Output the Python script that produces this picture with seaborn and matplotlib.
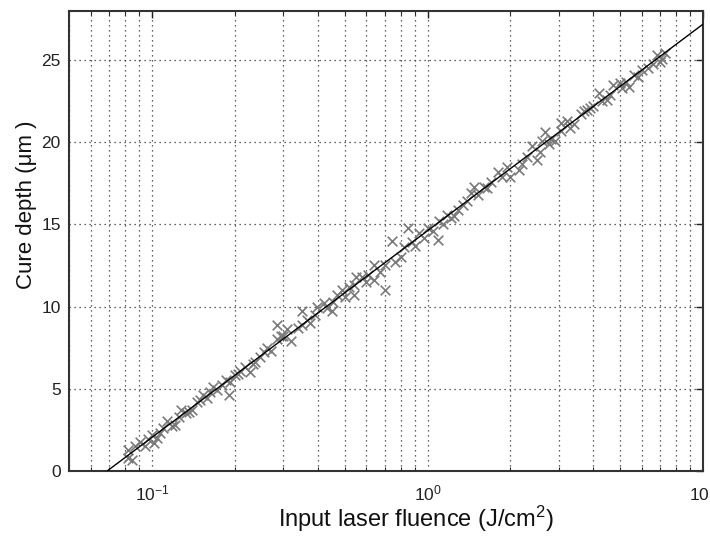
import matplotlib
matplotlib.use("Agg")
import matplotlib.pyplot as plt
import seaborn as sns
import pandas as pd
from matplotlib.ticker import LogLocator, LogFormatterSciNotation, NullFormatter

# Measured cure depth versus input fluence
fluence = [0.082, 0.0846, 0.0818, 0.0905, 0.094, 0.1, 0.102, 0.107, 0.104, 0.113,
           0.118, 0.121, 0.128, 0.133, 0.14, 0.146, 0.153, 0.158, 0.166, 0.172,
           0.18, 0.192, 0.19, 0.2, 0.209, 0.218, 0.227, 0.236, 0.247, 0.255,
           0.262, 0.284, 0.284, 0.295, 0.31, 0.32, 0.35, 0.35, 0.365, 0.376,
           0.398, 0.42, 0.45, 0.455, 0.47, 0.49, 0.54, 0.55, 0.54, 0.58,
           0.61, 0.64, 0.64, 0.7, 0.7, 0.745, 0.8, 0.82, 0.85, 0.88,
           0.93, 1.0, 1.05, 1.09, 1.1, 1.18, 1.22, 1.29, 1.39, 1.44,
           1.47, 1.6, 1.7, 1.8, 1.95, 2.0, 2.15, 2.3, 2.4, 2.5,
           2.6, 2.66, 2.75, 2.8, 3.04, 3.04, 3.2, 3.4, 3.6, 3.7,
           3.8, 3.9, 4.2, 4.3, 4.5, 4.7, 5.0, 5.25, 5.4, 5.6,
           6.0, 6.3, 6.8, 7.0, 7.3,
           0.087, 0.097, 0.11, 0.125, 0.136, 0.15, 0.162, 0.185, 0.205, 0.232,
           0.27, 0.3, 0.34, 0.39, 0.43, 0.5, 0.52, 0.6, 0.67, 0.76,
           0.9, 0.97, 1.14, 1.25, 1.35, 1.52, 1.65, 1.87, 2.2, 2.55,
           2.9, 3.3, 4.0, 4.6, 5.1, 5.8, 6.6, 7.1]
depth = [1.26, 0.65, 0.8, 1.77, 1.5, 2.18, 1.7, 2.3, 2.0, 3.0,
         2.7, 2.8, 3.7, 3.5, 3.7, 4.2, 4.6, 4.4, 5.1, 4.9,
         5.2, 5.4, 4.6, 5.8, 6.1, 6.3, 6.0, 6.6, 6.9, 7.2,
         7.5, 8.0, 8.9, 8.2, 8.6, 7.9, 8.9, 9.7, 9.2, 9.0,
         10.0, 10.2, 9.7, 10.3, 10.7, 11.0, 10.7, 11.8, 11.3, 11.8,
         11.9, 11.6, 12.5, 11.0, 12.5, 14.0, 13.0, 13.6, 14.8, 13.9,
         14.5, 14.8, 14.6, 14.05, 15.2, 15.6, 15.4, 15.9, 16.4, 16.9,
         17.3, 17.3, 17.6, 18.2, 18.5, 17.9, 18.3, 19.1, 19.75, 18.95,
         20.1, 20.6, 19.9, 20.2, 21.2, 20.7, 21.3, 21.1, 21.7, 21.9,
         22.0, 22.1, 23.0, 22.5, 22.6, 23.5, 23.6, 23.7, 23.4, 24.1,
         24.4, 24.55, 25.35, 24.9, 25.45,
         1.5, 1.9, 2.6, 3.3, 3.6, 4.3, 4.8, 5.5, 5.9, 6.5,
         7.3, 8.2, 8.7, 9.5, 9.9, 10.6, 11.2, 11.5, 12.1, 12.7,
         13.7, 14.2, 15.0, 15.5, 16.2, 16.8, 17.2, 17.9, 18.7, 19.4,
         20.1, 20.9, 22.2, 22.9, 23.3, 24.0, 24.8, 25.1]

# Logarithmic fit endpoints
fit_fluence = [0.069, 10.0]
fit_depth = [0.0, 27.2]

x_ticks = [0.1, 1, 10]
y_ticks = [0, 5, 10, 15, 20, 25]

sns.set_style("white")
plt.rcParams["font.family"] = ["Liberation Sans", "DejaVu Sans"]
plt.rcParams["mathtext.fontset"] = "custom"
plt.rcParams["mathtext.rm"] = "Liberation Sans"
plt.rcParams["mathtext.it"] = "Liberation Sans"

fig = plt.figure(figsize=(7.10, 5.37), dpi=100)
ax = fig.add_axes([0.0972, 0.1235, 0.893, 0.856])

meas = pd.DataFrame({"fluence": fluence, "depth": depth})
fit = pd.DataFrame({"fluence": fit_fluence, "depth": fit_depth})

ax.set_xscale("log")
sns.scatterplot(data=meas, x="fluence", y="depth", marker="x", color="#7a7a7a",
                s=48, linewidth=1.2, ax=ax, zorder=3)
sns.lineplot(data=fit, x="fluence", y="depth", color="black", linewidth=1.0,
             ax=ax, zorder=4)

ax.set_xlim(0.05, 10)
ax.set_ylim(0, 28)
ax.set_xticks(x_ticks)
ax.xaxis.set_major_formatter(LogFormatterSciNotation())
ax.xaxis.set_minor_locator(LogLocator(base=10, subs=range(2, 10)))
ax.xaxis.set_minor_formatter(NullFormatter())
ax.set_yticks(y_ticks)

ax.grid(True, which="both", axis="x", linestyle=(0, (1, 3)), color="#333333", linewidth=0.9)
ax.grid(True, which="major", axis="y", linestyle=(0, (1, 3)), color="#333333", linewidth=0.9)

ax.tick_params(axis="both", which="major", direction="in", length=5, width=1,
               top=True, right=True, labelsize=12.5, colors="#222222", pad=6)
ax.tick_params(axis="x", which="minor", direction="in", length=3, width=0.8,
               top=True, bottom=True)
ax.tick_params(axis="x", which="major", pad=9)
for s in ax.spines.values():
    s.set_linewidth(1.5)
    s.set_color("#333333")

ax.set_xlabel("Input laser fluence (J/cm$^2$)", fontsize=17, color="#111111")
ax.set_ylabel("Cure depth (\u03bcm )", fontsize=16, color="#111111")
ax.xaxis.set_label_coords(0.547, -0.072)
ax.yaxis.set_label_coords(-0.050, 0.578)

fig.savefig("out.png", dpi=100)
